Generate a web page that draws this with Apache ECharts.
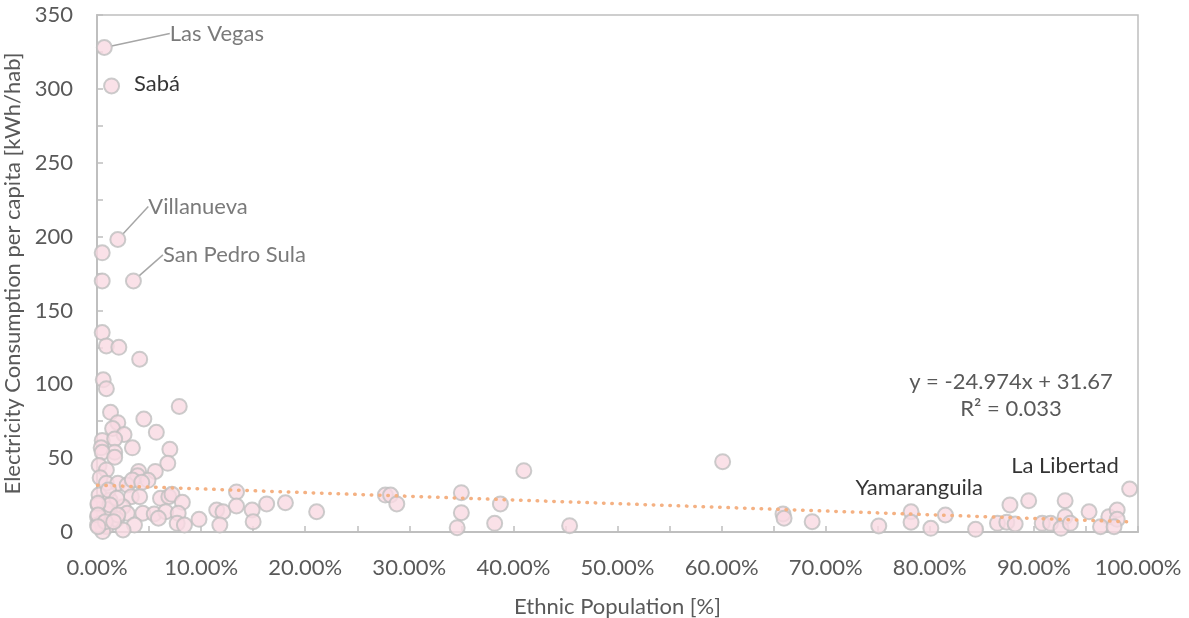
<!DOCTYPE html>
<html>
<head>
<meta charset="utf-8">
<script src="https://cdn.jsdelivr.net/npm/echarts@6/dist/echarts.min.js"></script>
<style>
  html, body { margin: 0; padding: 0; background: #ffffff; }
  #chart { width: 1189px; height: 618px; }
</style>
</head>
<body>
<div id="chart"></div>
<script>
// Share of ethnic population per municipality (fraction, 0..1)
const ethnicShare = [
  0.007, 0.014, 0.020, 0.005, 0.005, 0.035, 0.005, 0.009, 0.021, 0.041,
  0.006, 0.009, 0.079, 0.013, 0.045, 0.020, 0.015, 0.057, 0.026, 0.005,
  0.017, 0.004, 0.034, 0.070, 0.017, 0.005, 0.017, 0.068, 0.002, 0.040,
  0.056, 0.039, 0.049, 0.009, 0.003, 0.009, 0.020, 0.029, 0.034, 0.043,
  0.002, 0.0125, 0.033, 0.041, 0.061, 0.069, 0.072, 0.082, 0.134, 0.009,
  0.001, 0.025, 0.029, 0.044, 0.055, 0.066, 0.078, 0.115, 0.121, 0.134,
  0.149, 0.163, 0.181, 0.0005, 0.0045, 0.009, 0.019, 0.036, 0.059, 0.077,
  0.084, 0.098, 0.118, 0.150, 0.0055, 0.025, 0.0005, 0.011, 0.019, 0.0125,
  0.001, 0.001, 0.020, 0.008, 0.001, 0.016, 0.211, 0.277, 0.282, 0.288,
  0.350, 0.350, 0.346, 0.3875, 0.382, 0.410, 0.454, 0.601, 0.659, 0.660,
  0.687, 0.751, 0.782, 0.782, 0.801, 0.815, 0.844, 0.865, 0.877, 0.874,
  0.882, 0.895, 0.908, 0.916, 0.930, 0.930, 0.926, 0.935, 0.953, 0.972,
  0.980, 0.980, 0.964, 0.977, 0.992
];

// Electricity consumption per capita (kWh/hab)
const consumption = [
  328, 302, 198, 189, 170, 170, 135, 126, 125, 117,
  103, 97, 85, 81, 76.5, 74, 70, 67.5, 66, 62,
  63, 57, 57, 56, 54, 54, 50.6, 46.5, 45, 41,
  41, 38, 35, 42, 36.8, 33, 33, 31.8, 35.2, 33.6,
  25, 21.7, 23.9, 23.9, 22.8, 23.9, 25.5, 20.1, 27.1, 15.4,
  18.3, 17.1, 12.7, 12.7, 12.2, 13.7, 12.7, 14.9, 13.7, 17.6,
  14.9, 19, 19.8, 10.4, 5.9, 3.6, 8.6, 4.7, 9.3, 5.9,
  4.7, 8.6, 4.7, 7.0, 0.3, 1.4, 4.7, 28.4, 22.8, 18.3,
  19.4, 11.5, 11.5, 7.0, 3.6, 7.0, 13.7, 25, 25, 19,
  26.6, 13.1, 2.9, 19, 5.9, 41.5, 4.3, 47.6, 12.2, 9.3,
  7.0, 4.1, 13.7, 6.6, 2.5, 11.5, 1.8, 5.9, 18.3, 6.6,
  5.4, 21.2, 5.9, 5.9, 21.2, 10.4, 2.5, 5.9, 13.7, 10.4,
  14.9, 8.6, 3.6, 3.6, 29.1
];

// Named municipalities (index into the arrays above)
const namedIndex = [0, 1, 2, 5, 102, 124];
const namedLabel = ['Las Vegas', 'Sabá', 'Villanueva', 'San Pedro Sula', 'Yamaranguila', 'La Libertad'];

// Linear fit reported on the chart
const trendSlope = -24.974;
const trendIntercept = 31.67;
const rSquared = 0.033;

// Axis ticks
const yTickStep = 25;
const yLabelStep = 50;
const xTickStep = 0.05;
const xLabelStep = 0.10;

const FONT = 'Lato, "Open Sans", sans-serif';
const GREY_TEXT = '#595959';
const AXIS_GREY = '#BFBFBF';
const FS = 22;

// Label placement for the named points: offset + colour + leader line
const labelStyle = {
  'Las Vegas':      { dx: 52,   dy: -14, color: GREY_TEXT, line: true },
  'Sabá':           { dx: 9,    dy: -2,  color: '#000000', line: false },
  'Villanueva':     { dx: 17,   dy: -33, color: GREY_TEXT, line: true },
  'San Pedro Sula': { dx: 16,   dy: -26, color: GREY_TEXT, line: true },
  'Yamaranguila':   { dx: -69,  dy: -24, color: '#000000', line: false },
  'La Libertad':    { dx: -132, dy: -23, color: '#000000', line: false }
};

const points = ethnicShare.map(function (x, i) {
  const k = namedIndex.indexOf(i);
  const item = { value: [x, consumption[i]] };
  if (k >= 0) {
    const name = namedLabel[k];
    const st = labelStyle[name];
    item.name = name;
    item.label = {
      show: true, formatter: name, position: 'right', distance: 5,
      color: st.color, fontSize: FS, fontFamily: FONT
    };
    item.labelLine = { show: st.line, lineStyle: { color: '#A6A6A6', width: 1.5 } };
  }
  return item;
});

const xMin = Math.min.apply(null, ethnicShare);
const xMax = Math.max.apply(null, ethnicShare);
const trendData = [
  [xMin, trendIntercept + trendSlope * xMin],
  [xMax, trendIntercept + trendSlope * xMax]
];

function isMultiple(v, step) {
  const r = Math.round(v / step * 1000) / 1000;
  return Math.abs(r - Math.round(r)) < 1e-6;
}

const chart = echarts.init(document.getElementById('chart'), null, { renderer: 'canvas' });

chart.setOption({
  animation: false,
  backgroundColor: '#ffffff',
  textStyle: { fontFamily: FONT },
  grid: {
    left: 97, right: 51, top: 15, bottom: 86,
    outerBoundsMode: 'none', containLabel: false,
    show: true, borderColor: AXIS_GREY, borderWidth: 1.5, backgroundColor: 'transparent'
  },
  xAxis: {
    type: 'value', min: 0, max: 1, interval: xTickStep,
    name: 'Ethnic Population [%]', nameLocation: 'middle', nameGap: 64,
    nameTextStyle: { color: GREY_TEXT, fontSize: FS, fontFamily: FONT },
    axisLine: { show: true, lineStyle: { color: AXIS_GREY, width: 2 } },
    axisTick: { show: true, inside: true, length: 6, lineStyle: { color: AXIS_GREY, width: 1.5 } },
    axisLabel: {
      color: GREY_TEXT, fontSize: FS, fontFamily: FONT, margin: 25,
      showMaxLabel: true, showMinLabel: true,
      formatter: function (v) { return isMultiple(v, xLabelStep) ? (v * 100).toFixed(2) + '%' : ''; }
    },
    splitLine: { show: false }
  },
  yAxis: {
    type: 'value', min: 0, max: 350, interval: yTickStep,
    name: 'Electricity Consumption per capita [kWh/hab]', nameLocation: 'middle', nameGap: 71,
    nameTextStyle: { color: GREY_TEXT, fontSize: FS, fontFamily: FONT },
    axisLine: { show: true, lineStyle: { color: AXIS_GREY, width: 2 } },
    axisTick: { show: true, inside: true, length: 6, lineStyle: { color: AXIS_GREY, width: 1.5 } },
    axisLabel: {
      color: GREY_TEXT, fontSize: FS, fontFamily: FONT, margin: 24,
      formatter: function (v) { return isMultiple(v, yLabelStep) ? String(v) : ''; }
    },
    splitLine: { show: false }
  },
  series: [
    {
      type: 'scatter',
      data: points,
      symbol: 'circle',
      symbolSize: 15,
      itemStyle: { color: '#F9D9E2', borderColor: '#BFBFBF', borderWidth: 2 },
      label: { show: false },
      labelLayout: function (params) {
        const st = labelStyle[params.text];
        return st ? { dx: st.dx, dy: st.dy } : {};
      },
      z: 2
    },
    {
      type: 'line',
      data: trendData,
      symbol: 'none',
      silent: true,
      lineStyle: { color: '#F4B183', width: 3.5, type: [0.5, 7.8], cap: 'round' },
      z: 3
    }
  ],
  graphic: [
    {
      type: 'text', x: 1011, y: 382, z: 10,
      style: {
        text: 'y = ' + trendSlope.toFixed(3) + 'x + ' + trendIntercept.toFixed(2),
        fill: GREY_TEXT, font: FS + 'px ' + FONT, align: 'center', verticalAlign: 'middle'
      }
    },
    {
      type: 'text', x: 1011, y: 409, z: 10,
      style: {
        text: 'R² = ' + rSquared.toFixed(3),
        fill: GREY_TEXT, font: FS + 'px ' + FONT, align: 'center', verticalAlign: 'middle'
      }
    }
  ]
});
</script>
</body>
</html>
